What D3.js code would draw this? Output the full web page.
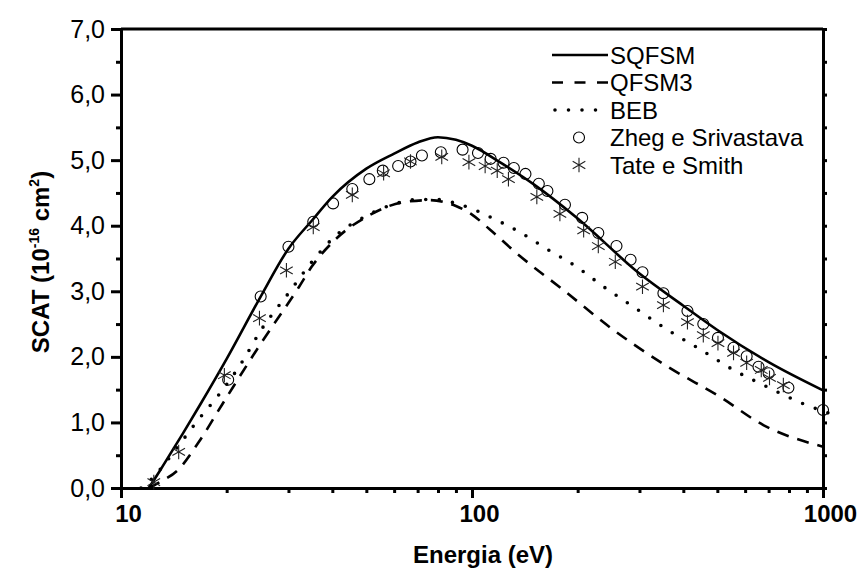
<!DOCTYPE html>
<html>
<head>
<meta charset="utf-8">
<script src="https://cdn.jsdelivr.net/npm/d3@7"></script>
<style>
  body { margin: 0; background: #fff; }
  svg { display: block; font-family: Arial, "Liberation Sans", sans-serif; }
</style>
</head>
<body>
<div id="chart-area"></div>
<script>
// Curve data (energy in eV, cross section in 1e-16 cm2)
var sqfsmE = [12, 13, 14, 15, 16.8, 20, 25, 30, 35, 40, 50, 60, 70, 80, 90, 100, 120, 150, 200, 300, 400, 500, 700, 1000];
var sqfsmV = [0, 0.29, 0.57, 0.83, 1.27, 1.97, 2.92, 3.65, 4.08, 4.44, 4.87, 5.10, 5.27, 5.35, 5.31, 5.22, 4.97, 4.63, 4.11, 3.27, 2.78, 2.41, 1.92, 1.49];

var qfsmE = [12, 13, 14.5, 16.6, 19.4, 21.2, 25, 32, 35, 41, 51, 64, 76, 90, 100, 112, 134, 182, 253, 361, 509, 676, 1000];
var qfsmV = [0, 0.1, 0.27, 0.69, 1.27, 1.6, 2.2, 3.05, 3.38, 3.8, 4.16, 4.36, 4.39, 4.3, 4.17, 3.95, 3.58, 3.02, 2.41, 1.85, 1.39, 0.96, 0.63];

var bebE = [11.4, 12.3, 13.1, 14.8, 16.6, 18.8, 22, 25, 30, 35, 40, 50, 60, 70, 80, 90, 102, 114, 137, 164, 199, 237, 289, 361, 445, 556, 695, 856, 1040];
var bebV = [0, 0.15, 0.32, 0.69, 1.04, 1.39, 1.9, 2.4, 2.97, 3.45, 3.8, 4.15, 4.33, 4.4, 4.4, 4.34, 4.24, 4.12, 3.9, 3.64, 3.37, 3.07, 2.76, 2.41, 2.12, 1.80, 1.54, 1.31, 1.14];

// Experimental points
var zhegE = [20.2, 25, 30, 35.3, 40.2, 45.6, 51, 55.7, 61.6, 66.8, 72, 81.5, 94, 104, 113, 123, 131.6, 142, 155, 164, 184, 206, 229, 258, 283, 306, 351, 411, 456, 502, 556, 606, 655, 700, 797, 1000];
var zhegV = [1.65, 2.92, 3.68, 4.06, 4.34, 4.56, 4.71, 4.84, 4.91, 4.98, 5.07, 5.12, 5.16, 5.11, 5.02, 4.96, 4.88, 4.79, 4.64, 4.53, 4.32, 4.12, 3.89, 3.69, 3.48, 3.29, 2.97, 2.70, 2.50, 2.29, 2.14, 2.01, 1.85, 1.75, 1.53, 1.19];

var tateE = [12.4, 14.6, 19.7, 24.8, 29.6, 35.3, 45.6, 56, 66.8, 82, 98, 109, 118, 127, 153, 178, 208, 229, 256, 306, 351, 411, 456, 502, 556, 606, 667, 704, 771];
var tateV = [0.09, 0.55, 1.72, 2.59, 3.32, 3.98, 4.47, 4.80, 4.98, 5.05, 4.97, 4.91, 4.84, 4.71, 4.44, 4.18, 3.93, 3.69, 3.45, 3.07, 2.79, 2.53, 2.33, 2.21, 2.06, 1.91, 1.80, 1.68, 1.57];

// Ticks
var xMajor = [10, 100, 1000];
var xMinor = [20, 30, 40, 50, 60, 70, 80, 90, 200, 300, 400, 500, 600, 700, 800, 900];
var yMajor = [0, 1, 2, 3, 4, 5, 6, 7];
var yMinor = [0.5, 1.5, 2.5, 3.5, 4.5, 5.5, 6.5];

var legendNames = ["SQFSM", "QFSM3", "BEB", "Zheg e Srivastava", "Tate e Smith"];

function zip(a, b) { return a.map(function(d, i){ return { e: d, v: b[i] }; }); }

// Setting margin
var margin = { left: 121, right: 37, top: 29, bottom: 80 };
var width = 860 - margin.left - margin.right,
    height = 568 - margin.top - margin.bottom;

var svg = d3.select("#chart-area")
    .append("svg")
        .attr("width", 860)
        .attr("height", 568);
var g = svg.append("g")
        .attr("transform", "translate(" + margin.left + ", " + margin.top + ")");

// Scales
var x = d3.scaleLog().domain([10, 1000]).range([0, width]);
var y = d3.scaleLinear().domain([0, 7]).range([height, 0]);

// Minor ticks first (underneath)
g.append("g")
    .attr("class", "x minor")
    .attr("transform", "translate(0," + height + ")")
    .call(d3.axisBottom(x).tickValues(xMinor).tickSize(5).tickSizeOuter(0).tickFormat(""));
g.append("g")
    .attr("class", "y minor")
    .call(d3.axisLeft(y).tickValues(yMinor).tickSize(5).tickSizeOuter(0).tickFormat(""));
g.append("g")
    .attr("class", "r axis")
    .attr("transform", "translate(" + width + ",0)")
    .call(d3.axisRight(y).tickValues(yMajor.concat(yMinor)).tickSize(4).tickSizeOuter(0).tickFormat(""));

// X Axis
var xAxis = g.append("g")
    .attr("class", "x axis")
    .attr("transform", "translate(0," + height + ")")
    .call(d3.axisBottom(x).tickValues(xMajor).tickSize(10).tickSizeOuter(0).tickPadding(7).tickFormat(d3.format("d")));
xAxis.selectAll("text")
    .attr("dx", 7)
    .attr("font-size", "24px")
    .attr("font-weight", "bold");

// Y Axis
var yAxis = g.append("g")
    .attr("class", "y axis")
    .call(d3.axisLeft(y).tickValues(yMajor).tickSize(10).tickSizeOuter(0).tickPadding(6)
        .tickFormat(function(d){ return d3.format(".1f")(d).replace(".", ","); }));
yAxis.selectAll("text")
    .attr("font-size", "25px");

// Frame top
g.append("line")
    .attr("x1", 0).attr("x2", width)
    .attr("y1", 0).attr("y2", 0);

g.selectAll(".domain, .tick line, g > line")
    .attr("stroke", "#000")
    .attr("stroke-width", 2.5);
g.selectAll(".domain").attr("stroke-width", 3);
g.selectAll("g > line").attr("stroke-width", 3);
g.selectAll(".tick text").attr("fill", "#000");

// Curves
var line = d3.line()
    .x(function(d){ return x(d.e); })
    .y(function(d){ return y(d.v); })
    .curve(d3.curveMonotoneX);

g.append("path")
    .datum(zip(sqfsmE, sqfsmV))
    .attr("fill", "none")
    .attr("stroke", "#000")
    .attr("stroke-width", 2.6)
    .attr("d", line);

g.append("path")
    .datum(zip(qfsmE, qfsmV))
    .attr("fill", "none")
    .attr("stroke", "#000")
    .attr("stroke-width", 2.6)
    .attr("stroke-dasharray", "12,9")
    .attr("d", line);

g.append("path")
    .datum(zip(bebE, bebV))
    .attr("fill", "none")
    .attr("stroke", "#000")
    .attr("stroke-width", 3.6)
    .attr("stroke-linecap", "round")
    .attr("stroke-dasharray", "0,13.5")
    .attr("d", line);

// Markers
var circleSym = d3.symbol().type(d3.symbolCircle).size(95);
var starSym = d3.symbol().type(d3.symbolAsterisk).size(150);

g.selectAll(".zheg")
    .data(zip(zhegE, zhegV))
    .enter().append("path")
    .attr("class", "zheg")
    .attr("transform", function(d){ return "translate(" + x(d.e) + "," + y(d.v) + ")"; })
    .attr("d", circleSym)
    .attr("fill", "none")
    .attr("stroke", "#000")
    .attr("stroke-width", 1.1);

g.selectAll(".tate")
    .data(zip(tateE, tateV))
    .enter().append("path")
    .attr("class", "tate")
    .attr("transform", function(d){ return "translate(" + x(d.e) + "," + y(d.v) + ")"; })
    .attr("d", starSym)
    .attr("fill", "none")
    .attr("stroke", "#222")
    .attr("stroke-width", 1.1);

// Legend
var legend = svg.append("g")
    .attr("transform", "translate(552, 55)");

legendNames.forEach(function(name, i){
    var row = legend.append("g")
        .attr("transform", "translate(0, " + (i * 27.5) + ")");
    if (i == 0 || i == 1 || i == 2) {
        var l = row.append("line")
            .attr("x1", i == 2 ? 3 : 0).attr("x2", 56)
            .attr("y1", 0).attr("y2", 0)
            .attr("stroke", "#000")
            .attr("stroke-width", i == 2 ? 3.6 : 2.6);
        if (i == 1) l.attr("stroke-dasharray", "11,11.5");
        if (i == 2) l.attr("stroke-linecap", "round").attr("stroke-dasharray", "0,13.5");
    } else {
        row.append("path")
            .attr("transform", "translate(27, 0)")
            .attr("d", i == 3 ? circleSym : starSym)
            .attr("fill", "none")
            .attr("stroke", i == 3 ? "#000" : "#222")
            .attr("stroke-width", 1.1);
    }
    row.append("text")
        .attr("x", 58)
        .attr("y", 8.5)
        .attr("font-size", "24px")
        .text(name);
});

// X Label
svg.append("text")
    .attr("x", 483)
    .attr("y", 563)
    .attr("font-size", "24px")
    .attr("font-weight", "bold")
    .attr("text-anchor", "middle")
    .text("Energia (eV)");

// Y Label
var yLabel = svg.append("text")
    .attr("transform", "translate(49, 262) rotate(-90)")
    .attr("font-size", "24px")
    .attr("font-weight", "bold")
    .attr("text-anchor", "middle");
yLabel.append("tspan").text("SCAT (10");
yLabel.append("tspan").attr("font-size", "14px").attr("dy", -10).text("-16");
yLabel.append("tspan").attr("dy", 10).text(" cm");
yLabel.append("tspan").attr("font-size", "14px").attr("dy", -10).text("2");
yLabel.append("tspan").attr("dy", 10).text(")");
</script>
</body>
</html>
